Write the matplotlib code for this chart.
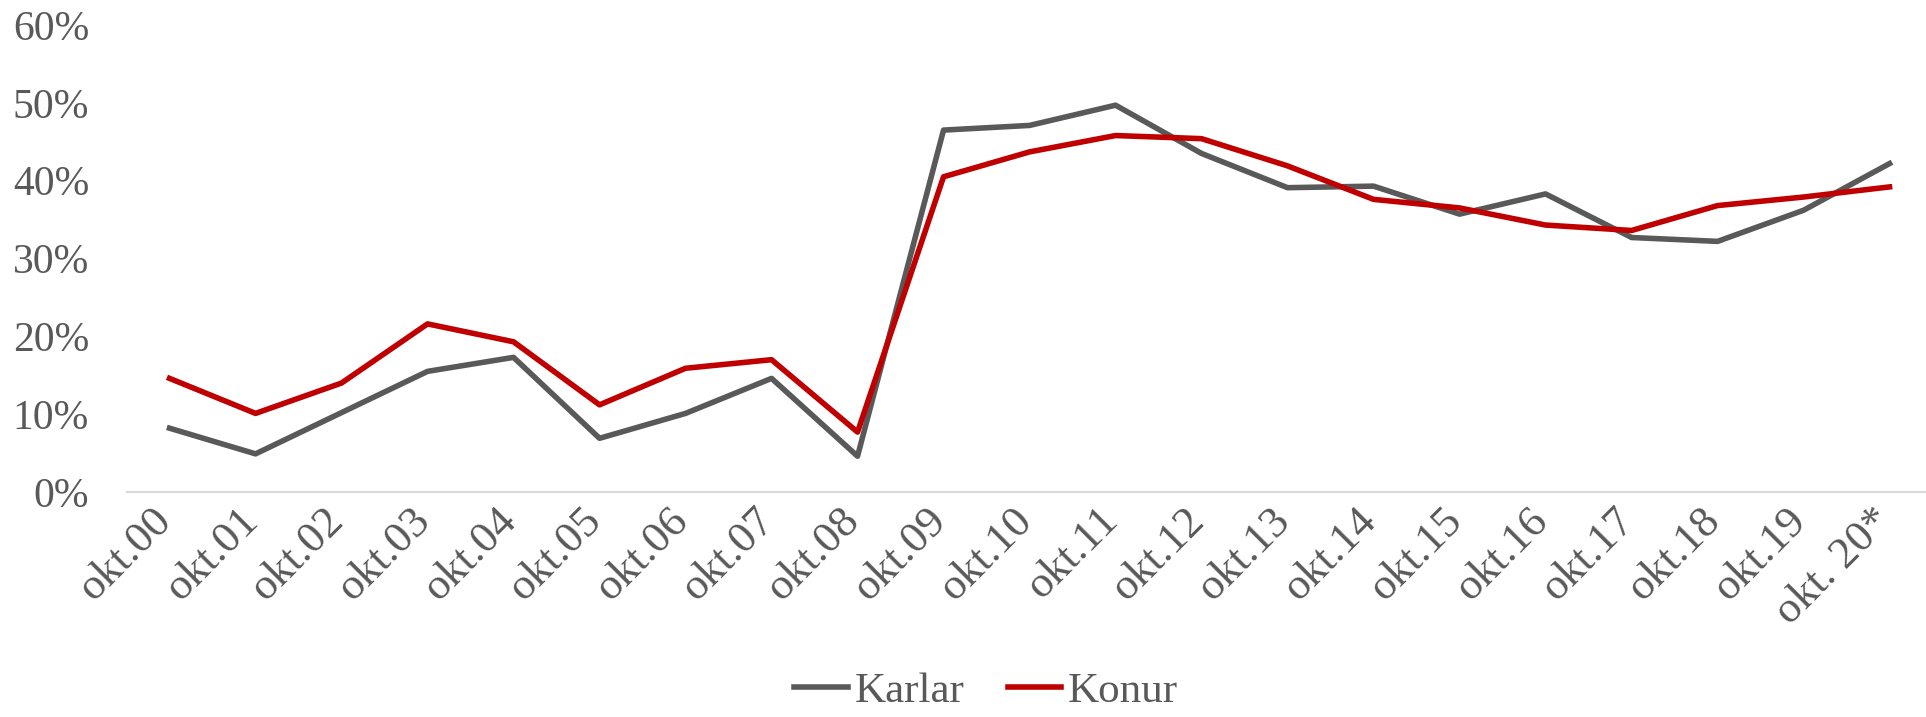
import matplotlib.pyplot as plt
import matplotlib.transforms as mtransforms
from matplotlib.ticker import PercentFormatter

# --- Data ---
periods = ['okt.00', 'okt.01', 'okt.02', 'okt.03', 'okt.04', 'okt.05', 'okt.06',
           'okt.07', 'okt.08', 'okt.09', 'okt.10', 'okt.11', 'okt.12', 'okt.13',
           'okt.14', 'okt.15', 'okt.16', 'okt.17', 'okt.18', 'okt.19', 'okt. 20*']
karlar = [8.2, 4.9, 10.2, 15.5, 17.3, 6.9, 10.1, 14.6, 4.6, 46.5, 47.1, 49.7,
          43.5, 39.1, 39.3, 35.7, 38.3, 32.7, 32.2, 36.2, 42.2]
konur = [14.6, 10.1, 14.0, 21.6, 19.3, 11.2, 15.9, 17.0, 7.7, 40.5, 43.7, 45.8,
         45.4, 41.9, 37.6, 36.5, 34.3, 33.6, 36.8, 37.9, 39.2]

# --- Style ---
GRAY = '#595959'
RED = '#C00000'
plt.rcParams['font.family'] = ['Liberation Serif', 'DejaVu Serif']
FS = 30

fig = plt.figure(figsize=(19.26, 7.17), dpi=100)
ax = fig.add_axes([0.0657, 0.3138, 0.9377, 0.6513])

x = range(len(periods))
ax.plot(x, karlar, color=GRAY, lw=4, label='Karlar')
ax.plot(x, konur, color=RED, lw=4, label='Konur')

ax.set_xlim(-0.5, len(periods) - 0.5)
ax.set_ylim(0, 60)
ax.set_yticks(range(0, 61, 10))
ax.yaxis.set_major_formatter(PercentFormatter(decimals=0))

# x labels drawn by hand so they can be nudged left (Excel-style placement)
ax.set_xticks(list(x))
ax.set_xticklabels([])
lbl_trans = ax.get_xaxis_transform() + mtransforms.ScaledTranslation(
    -13 / 72, -6 / 72, fig.dpi_scale_trans)
for i, name in enumerate(periods):
    ax.text(i, 0, name, transform=lbl_trans, rotation=45, ha='right', va='top',
            rotation_mode='anchor', fontsize=32, color=GRAY, clip_on=False)

for side in ['top', 'right', 'left']:
    ax.spines[side].set_visible(False)
ax.spines['bottom'].set_color('#D9D9D9')
ax.spines['bottom'].set_linewidth(1.5)

ax.tick_params(axis='both', length=0, colors=GRAY)
ax.tick_params(axis='y', pad=27, labelsize=FS)

fig.legend(loc='center', bbox_to_anchor=(0.512, 0.035), ncol=2, frameon=False,
           fontsize=31, labelcolor=GRAY, handlelength=1.25, handletextpad=0.15,
           columnspacing=1.0, borderpad=0.2)

fig.savefig('out.png', dpi=100)
